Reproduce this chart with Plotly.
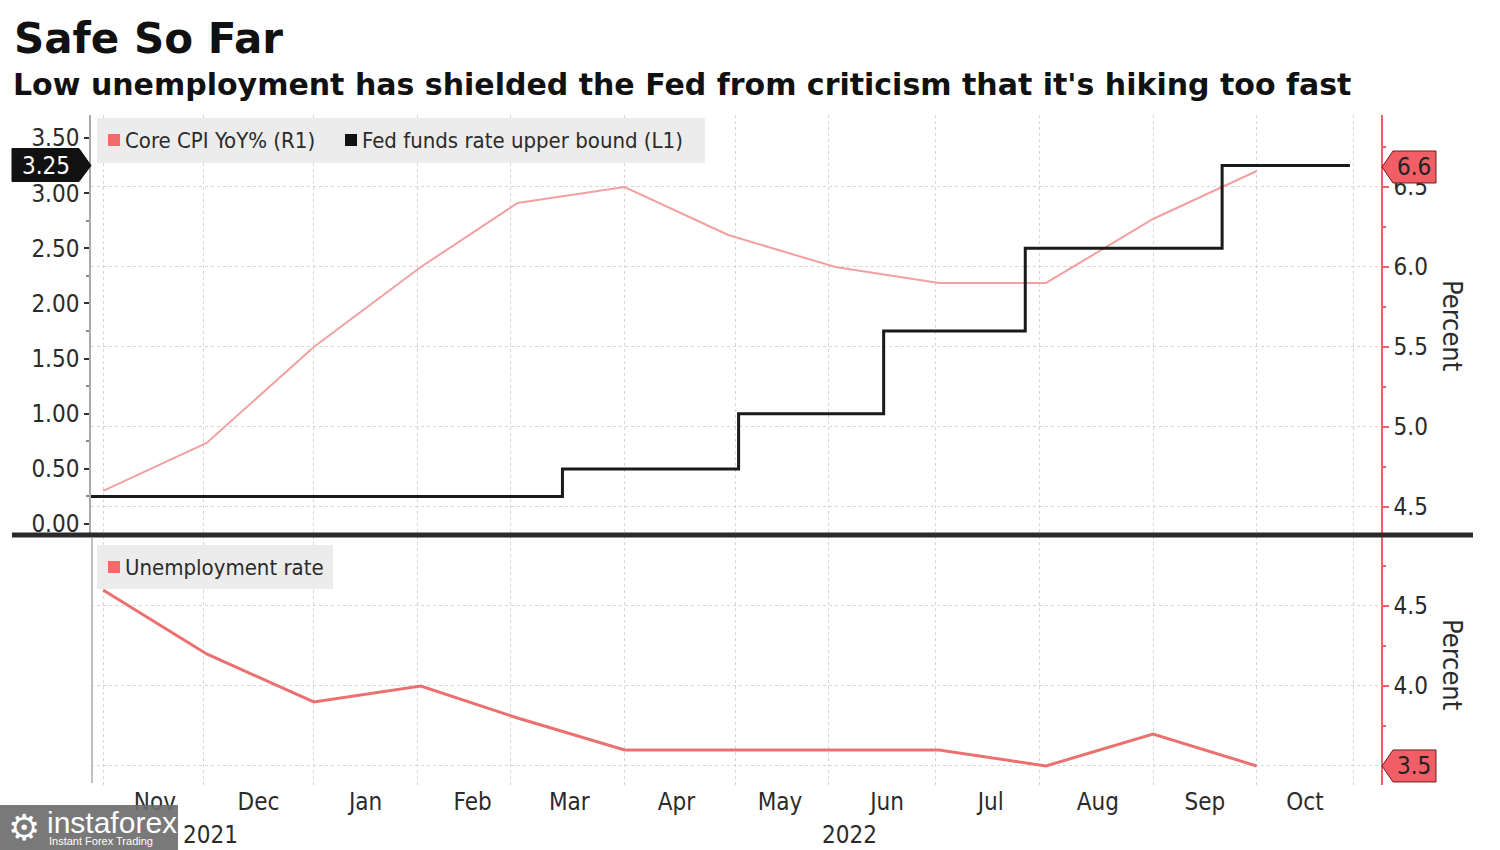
import plotly.graph_objects as go

# ---------------- data ----------------
cpi_dates = ["2021-10-31", "2021-11-30", "2021-12-31", "2022-01-31", "2022-02-28", "2022-03-31",
             "2022-04-30", "2022-05-31", "2022-06-30", "2022-07-31", "2022-08-31", "2022-09-30"]
cpi_values = [4.6, 4.9, 5.5, 6.0, 6.4, 6.5, 6.2, 6.0, 5.9, 5.9, 6.3, 6.6]

unemp_dates = cpi_dates
unemp_values = [4.6, 4.2, 3.9, 4.0, 3.8, 3.6, 3.6, 3.6, 3.6, 3.5, 3.7, 3.5]

fed_dates = ["2021-10-27", "2022-03-13", "2022-05-03", "2022-06-14", "2022-07-25", "2022-09-20", "2022-10-27"]
fed_values = [0.25, 0.50, 1.00, 1.75, 2.50, 3.25, 3.25]

month_tick_dates = ["2021-11-15", "2021-12-15", "2022-01-15", "2022-02-15", "2022-03-15", "2022-04-15",
                    "2022-05-15", "2022-06-15", "2022-07-15", "2022-08-15", "2022-09-15", "2022-10-14"]
month_tick_text = ["Nov", "Dec", "Jan", "Feb", "Mar", "Apr", "May", "Jun", "Jul", "Aug", "Sep", "Oct"]
month_grid_dates = ["2021-10-31", "2021-11-29", "2021-12-31", "2022-01-30", "2022-02-26", "2022-03-31",
                    "2022-05-02", "2022-05-29", "2022-06-29", "2022-07-29", "2022-08-31", "2022-09-30",
                    "2022-10-28"]
year_labels = ["2021", "2022"]
year_label_dates = ["2021-12-01", "2022-06-04"]

left_ticks = [0.0, 0.5, 1.0, 1.5, 2.0, 2.5, 3.0, 3.5]
right_ticks_top = [4.5, 5.0, 5.5, 6.0, 6.5]
right_ticks_bottom = [3.5, 4.0, 4.5]

title = "Safe So Far"
subtitle = "Low unemployment has shielded the Fed from criticism that it's hiking too fast"

# ---------------- styling ----------------
W, H = 1500, 850
L, R, T, B = 91, 1381, 115, 785
FONT = "DejaVu Sans Condensed, Liberation Sans Narrow, Roboto Condensed, Arial Narrow, sans-serif"
BOLD = "DejaVu Sans, Verdana, sans-serif"
TXT = "#2b2b2b"
RED_AX = "#f0606a"
PINK = "rgb(242,160,160)"
UNEMP = "rgb(236,112,112)"
GRID = "#d6d6d6"
TAG_RED = "#f25e66"


def px(xp):
    return (xp - L) / (R - L)


def py(yp):
    return (B - yp) / (B - T)


top_dom = [py(534), 1]
bot_dom = [0, py(536)]

fig = go.Figure()

fig.add_trace(go.Scatter(x=cpi_dates, y=cpi_values, xaxis="x2", yaxis="y", mode="lines",
                         line=dict(color=PINK, width=2), name="Core CPI YoY% (R1)", showlegend=False))
fig.add_trace(go.Scatter(x=fed_dates, y=fed_values, xaxis="x2", yaxis="y2", mode="lines",
                         line=dict(color="#1a1a1a", width=3, shape="hv"),
                         name="Fed funds rate upper bound (L1)", showlegend=False))
fig.add_trace(go.Scatter(x=unemp_dates, y=unemp_values, xaxis="x", yaxis="y3", mode="lines",
                         line=dict(color=UNEMP, width=3), name="Unemployment rate", showlegend=False))

xrange = ["2021-10-27 12:00", "2022-11-05"]
minor_grid = dict(tickvals=month_grid_dates, showgrid=True, gridcolor=GRID, griddash="dot",
                  gridwidth=1, ticks="")

fig.update_layout(
    width=W, height=H,
    margin=dict(l=L, r=W - R, t=T, b=H - B),
    paper_bgcolor="white", plot_bgcolor="white",
    font=dict(family=FONT, size=24, color=TXT),
    showlegend=False,
    xaxis=dict(domain=[0, 1], anchor="y3", type="date", range=xrange,
               tickmode="array", tickvals=month_tick_dates, ticktext=month_tick_text,
               ticks="", showgrid=False, showline=False, zeroline=False,
               tickfont=dict(family=FONT, size=24, color=TXT), minor=minor_grid),
    xaxis2=dict(domain=[0, 1], anchor="y", type="date", range=xrange, matches="x",
                showticklabels=False, ticks="", showgrid=False, showline=False,
                zeroline=False, minor=minor_grid),
    yaxis=dict(domain=top_dom, anchor="x2", side="right", range=[4.331, 6.95],
               tickmode="array", tickvals=right_ticks_top, tickformat=".1f",
               ticks="outside", ticklen=6, tickcolor=RED_AX, tickwidth=1.5,
               showline=True, linecolor=RED_AX, linewidth=1.5,
               showgrid=True, gridcolor=GRID, griddash="dot", zeroline=False,
               tickfont=dict(family=FONT, size=24, color=TXT),
               minor=dict(dtick=0.25, tick0=0, ticks="outside", ticklen=3, tickcolor=RED_AX, showgrid=False)),
    yaxis2=dict(domain=top_dom, anchor="x2", overlaying="y", side="left", range=[-0.09, 3.708],
                tickmode="array", tickvals=left_ticks, tickformat=".2f",
                ticks="outside", ticklen=5, tickcolor="#333", tickwidth=2,
                showline=True, linecolor="#aaaaaa", linewidth=1.5,
                showgrid=False, zeroline=False,
                tickfont=dict(family=FONT, size=24, color=TXT),
                minor=dict(dtick=0.25, tick0=0, ticks="outside", ticklen=3, tickcolor="#888", showgrid=False)),
    yaxis3=dict(domain=bot_dom, anchor="x", side="right", range=[3.381, 4.9375],
                tickmode="array", tickvals=right_ticks_bottom, tickformat=".1f",
                ticks="outside", ticklen=6, tickcolor=RED_AX, tickwidth=1.5,
                showline=True, linecolor=RED_AX, linewidth=1.5,
                showgrid=True, gridcolor=GRID, griddash="dot", zeroline=False,
                tickfont=dict(family=FONT, size=24, color=TXT),
                minor=dict(dtick=0.25, tick0=0, ticks="outside", ticklen=3, tickcolor=RED_AX, showgrid=False)),
)

shapes = []
ann = []

# titles
ann.append(dict(xref="paper", yref="paper", x=px(12), y=py(38), xanchor="left", yanchor="middle",
                text="<b>" + title + "</b>", showarrow=False,
                font=dict(family=BOLD, size=42, color="#111")))
ann.append(dict(xref="paper", yref="paper", x=px(11), y=py(84), xanchor="left", yanchor="middle",
                text="<b>" + subtitle + "</b>", showarrow=False,
                font=dict(family=BOLD, size=30, color="#111")))

# separator line between panels
shapes.append(dict(type="line", xref="paper", yref="paper", x0=px(12), x1=px(1473),
                   y0=py(535), y1=py(535), line=dict(color="#2a2a2a", width=5)))
# left axis line in bottom panel
shapes.append(dict(type="line", xref="paper", yref="paper", x0=px(92), x1=px(92),
                   y0=py(537), y1=py(783), line=dict(color="#aaaaaa", width=1.5)))

# legend boxes
shapes.append(dict(type="rect", xref="paper", yref="paper", x0=px(97), x1=px(705), y0=py(118), y1=py(163),
                   fillcolor="rgba(234,234,234,0.9)", line=dict(width=0), layer="above"))
shapes.append(dict(type="rect", xref="paper", yref="paper", x0=px(108), x1=px(120), y0=py(134), y1=py(146),
                   fillcolor="#f26b6b", line=dict(width=0), layer="above"))
shapes.append(dict(type="rect", xref="paper", yref="paper", x0=px(345), x1=px(357), y0=py(134), y1=py(146),
                   fillcolor="#111", line=dict(width=0), layer="above"))
ann.append(dict(xref="paper", yref="paper", x=px(123), y=py(141), xanchor="left", yanchor="middle",
                text="Core CPI YoY% (R1)", showarrow=False, font=dict(family=FONT, size=22, color=TXT)))
ann.append(dict(xref="paper", yref="paper", x=px(360), y=py(141), xanchor="left", yanchor="middle",
                text="Fed funds rate upper bound (L1)", showarrow=False, font=dict(family=FONT, size=22, color=TXT)))

shapes.append(dict(type="rect", xref="paper", yref="paper", x0=px(97), x1=px(333), y0=py(545), y1=py(589),
                   fillcolor="rgba(234,234,234,0.9)", line=dict(width=0), layer="above"))
shapes.append(dict(type="rect", xref="paper", yref="paper", x0=px(108), x1=px(120), y0=py(561), y1=py(573),
                   fillcolor="#f26b6b", line=dict(width=0), layer="above"))
ann.append(dict(xref="paper", yref="paper", x=px(123), y=py(567), xanchor="left", yanchor="middle",
                text="Unemployment rate", showarrow=False, font=dict(family=FONT, size=22, color=TXT)))

# value tags
shapes.append(dict(type="path", xref="paper", yref="y2", xsizemode="pixel", ysizemode="pixel",
                   xanchor=0, yanchor=fed_values[-1],
                   path="M-79,-16 L-12,-16 L0,0 L-12,17 L-79,17 Z",
                   fillcolor="#111", line=dict(color="#111", width=1), layer="above"))
ann.append(dict(xref="paper", yref="y2", x=0, xshift=-45, y=fed_values[-1], xanchor="center",
                yanchor="middle", text="%.2f" % fed_values[-1], showarrow=False,
                font=dict(family=FONT, size=24, color="white")))

shapes.append(dict(type="path", xref="paper", yref="y", xsizemode="pixel", ysizemode="pixel",
                   xanchor=1, yanchor=cpi_values[-1],
                   path="M1,4 L12,-12 L55,-12 L55,20 L12,20 Z",
                   fillcolor=TAG_RED, line=dict(color="#6a1c1c", width=1), layer="above"))
ann.append(dict(xref="paper", yref="y", x=1, xshift=33, yshift=4, y=cpi_values[-1], xanchor="center",
                yanchor="middle", text="%.1f" % cpi_values[-1], showarrow=False,
                font=dict(family=FONT, size=24, color="#222")))

shapes.append(dict(type="path", xref="paper", yref="y3", xsizemode="pixel", ysizemode="pixel",
                   xanchor=1, yanchor=unemp_values[-1],
                   path="M1,0 L12,-16 L55,-16 L55,16 L12,16 Z",
                   fillcolor=TAG_RED, line=dict(color="#6a1c1c", width=1), layer="above"))
ann.append(dict(xref="paper", yref="y3", x=1, xshift=33, y=unemp_values[-1], xanchor="center",
                yanchor="middle", text="%.1f" % unemp_values[-1], showarrow=False,
                font=dict(family=FONT, size=24, color="#222")))

# axis titles
ann.append(dict(xref="paper", yref="paper", x=px(1453), y=py(325), xanchor="center", yanchor="middle",
                text="Percent", textangle=90, showarrow=False, font=dict(family=FONT, size=27, color=TXT)))
ann.append(dict(xref="paper", yref="paper", x=px(1453), y=py(664), xanchor="center", yanchor="middle",
                text="Percent", textangle=90, showarrow=False, font=dict(family=FONT, size=27, color=TXT)))

# year labels
for yl, yd in zip(year_labels, year_label_dates):
    ann.append(dict(xref="x", yref="paper", x=yd, y=py(835), xanchor="center", yanchor="middle",
                    text=yl, showarrow=False, font=dict(family=FONT, size=24, color=TXT)))

# watermark
shapes.append(dict(type="rect", xref="paper", yref="paper", x0=px(0), x1=px(178), y0=py(805), y1=py(850),
                   fillcolor="rgba(110,110,110,0.92)", line=dict(width=0), layer="above"))
ann.append(dict(xref="paper", yref="paper", x=px(24), y=py(827), xanchor="center", yanchor="middle",
                text="⚙", showarrow=False, font=dict(family="DejaVu Sans", size=36, color="white")))
ann.append(dict(xref="paper", yref="paper", x=px(45), y=py(822), xanchor="left", yanchor="middle",
                text="instaforex", showarrow=False, font=dict(family="Liberation Sans, Arial, sans-serif", size=30, color="white")))
ann.append(dict(xref="paper", yref="paper", x=px(47), y=py(841), xanchor="left", yanchor="middle",
                text="Instant Forex Trading", showarrow=False, font=dict(family="Liberation Sans, Arial, sans-serif", size=11, color="white")))

fig.update_layout(shapes=shapes, annotations=ann)
fig.write_html("out.html", config={"displayModeBar": False},
               post_script="document.body.style.margin='0px';document.body.style.padding='0px';")
